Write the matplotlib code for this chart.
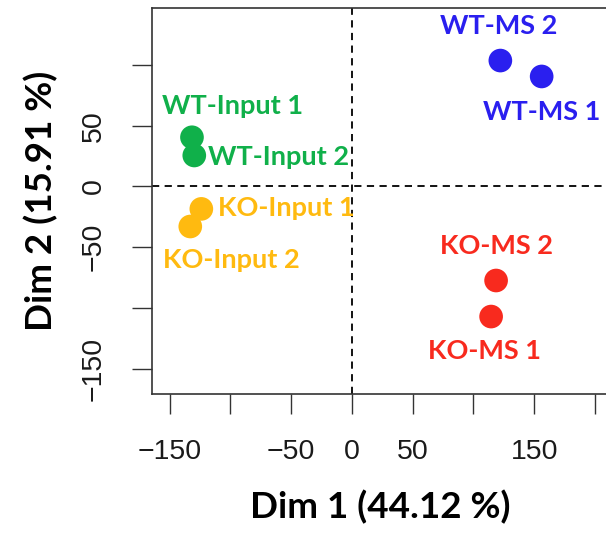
import numpy as np
import matplotlib.pyplot as plt

# DATA
samples = ["WT-MS 2", "WT-MS 1", "WT-Input 1", "WT-Input 2",
           "KO-Input 1", "KO-Input 2", "KO-MS 2", "KO-MS 1"]
dim1 = [122.2, 156.2, -131.6, -129.7, -123.9, -133.0, 118.7, 114.6]
dim2 = [103.7, 90.6, 40.5, 25.5, -18.5, -33.0, -77.5, -107.2]
groups = ["WT-MS", "WT-MS", "WT-Input", "WT-Input",
          "KO-Input", "KO-Input", "KO-MS", "KO-MS"]
xlabel = "Dim 1 (44.12 %)"
ylabel = "Dim 2 (15.91 %)"
xticks = [-150, -100, -50, 0, 50, 100, 150, 200]
xticklabels = ["\u2212150", "", "\u221250", "0", "50", "", "150", ""]
yticks = [-150, -100, -50, 0, 50, 100]
yticklabels = ["\u2212150", "", "\u221250", "0", "50", ""]

# STYLE
point_col = {"WT-MS": "#2A1FEF", "WT-Input": "#10B04A",
             "KO-Input": "#FFBA10", "KO-MS": "#F82A1E"}
# label offsets in pixels (dx, dy) and alignment
offsets = [(-2, 35, "center"), (0, -36, "center"), (41, 31, "center"), (14, -2, "left"),
           (17, 1, "left"), (41, -34, "center"), (0, 35, "center"), (-7, -34, "center")]

W, H = 606, 542
fig = plt.figure(figsize=(W / 100, H / 100), dpi=100)
left, right, top, bottom = 152, 608, 8, 394
ax = fig.add_axes([left / W, 1 - bottom / H, (right - left) / W, (bottom - top) / H])

ax.axvline(0, color="black", ls=(0, (4, 3)), lw=1.3, zorder=1)
ax.axhline(0, color="black", ls=(0, (4, 3)), lw=1.3, zorder=1)

for i in range(len(samples)):
    g = groups[i]
    ax.scatter(dim1[i], dim2[i], s=290, color=point_col[g], edgecolors="none", zorder=3)
    dx, dy, ha = offsets[i]
    ax.annotate(samples[i], (dim1[i], dim2[i]), xytext=(dx, dy), textcoords="offset pixels",
                ha=ha, va="center", color=point_col[g], fontsize=19.5,
                fontweight="bold", family="Lato", zorder=4)

ax.set_xlim(-164.5, 210.8)
ax.set_ylim(-171, 147)

ax.set_xticks(xticks)
ax.set_xticklabels(xticklabels, family="Liberation Sans", fontsize=20.5, color="#1a1a1a")
ax.set_yticks(yticks)
ax.set_yticklabels(yticklabels, family="Liberation Sans", fontsize=20.5, color="#1a1a1a",
                   rotation=90, va="center")
ax.tick_params(length=14.5, width=1.0, color="#333333", pad=18)

for side in ["left", "bottom", "top", "right"]:
    ax.spines[side].set_linewidth(1.2)
    ax.spines[side].set_color("#333333")

ax.set_xlabel(xlabel, family="Lato", fontweight="bold", fontsize=26.5, labelpad=18)
ax.set_ylabel(ylabel, family="Lato", fontweight="bold", fontsize=26.5, labelpad=16)

fig.savefig("out.png", dpi=100)
